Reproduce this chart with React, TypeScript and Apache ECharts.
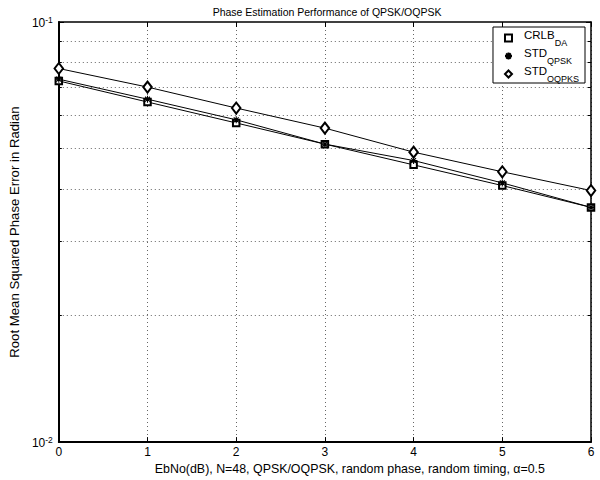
import React, { useEffect, useRef } from "react";
import * as echarts from "echarts";

const ebno = [0, 1, 2, 3, 4, 5, 6];
const crlbDA = [0.0724, 0.0645, 0.0575, 0.0512, 0.0457, 0.0408, 0.0362];
const stdQPSK = [0.0731, 0.0655, 0.0585, 0.0512, 0.0468, 0.0414, 0.0362];
const stdOQPKS = [0.0775, 0.07, 0.0624, 0.0559, 0.049, 0.044, 0.0397];
const xTicks = [0, 1, 2, 3, 4, 5, 6];

const FONT = "'Liberation Sans', Arial, Helvetica, sans-serif";
const ASTERISK = "path://M0,5L10,5M5,0L5,10M1.5,1.5L8.5,8.5M8.5,1.5L1.5,8.5";

const pairs = (ys: number[]) => ebno.map((x, i) => [x, ys[i]]);

export default function App() {
  const ref = useRef<HTMLDivElement>(null);
  useEffect(() => {
    if (!ref.current) return;
    const chart = echarts.init(ref.current, undefined, { renderer: "svg" });
    const dotted = { color: "#666", width: 1, type: [1, 3] as any };
    const logAxisBase = {
      type: "log" as const,
      logBase: 10,
      min: 0.01,
      max: 0.1,
      splitNumber: 1,
      axisTick: { show: true, inside: true, length: 5, lineStyle: { color: "#000" } },
      minorTick: { show: true, splitNumber: 9, length: 3, lineStyle: { color: "#000" } },
    };
    const seriesStyle = (name: string, ys: number[], symbol: string, size: any, bw: number) => ({
      name,
      type: "line",
      xAxisIndex: 0,
      yAxisIndex: 0,
      data: pairs(ys),
      symbol,
      symbolSize: size,
      showSymbol: true,
      lineStyle: { color: "#000", width: 1 },
      itemStyle: { color: "#000", borderColor: "#000", borderWidth: bw },
      emphasis: { disabled: true },
      z: 3,
    });
    chart.setOption({
      animation: false,
      backgroundColor: "#fff",
      textStyle: { fontFamily: FONT },
      title: {
        text: "Phase Estimation Performance of QPSK/OQPSK",
        left: 322,
        top: 1,
        textAlign: "center",
        textStyle: { fontSize: 10.5, fontWeight: "normal", color: "#000", fontFamily: FONT },
      },
      grid: { left: 54, right: 9, top: 22, bottom: 37, show: false },
      legend: {
        orient: "vertical",
        right: 15,
        top: 27,
        backgroundColor: "#fff",
        borderColor: "#000",
        borderWidth: 1,
        borderRadius: 0,
        padding: [2, 6, 0, 11],
        itemGap: 0,
        itemWidth: 7,
        itemHeight: 7,
        data: [
          { name: "CRLB", icon: "emptyRect" },
          { name: "STDQ", icon: ASTERISK },
          { name: "STDO", icon: "emptyDiamond" },
        ],
        formatter: (name: string) => {
          if (name === "CRLB") return "{n|CRLB}{s|DA}";
          if (name === "STDQ") return "{n|STD}{s|QPSK}";
          return "{n|STD}{s|OQPKS}";
        },
        textStyle: {
          color: "#000",
          fontFamily: FONT,
          padding: [0, 0, 0, 7],
          rich: {
            n: { fontSize: 11.5, fontFamily: FONT, color: "#000", lineHeight: 18, verticalAlign: "top" },
            s: { fontSize: 9, fontFamily: FONT, color: "#000", lineHeight: 18, verticalAlign: "bottom", padding: [7, 0, 0, 0] },
          },
        },
      },
      xAxis: [
        {
          type: "value",
          min: 0,
          max: 6,
          interval: 1,
          position: "bottom",
          name: "EbNo(dB), N=48, QPSK/OQPSK, random phase, random timing, α=0.5",
          nameLocation: "middle",
          nameGap: 20,
          nameTextStyle: { fontSize: 12.4, color: "#000", fontFamily: FONT, padding: [0, 0, 0, 50] },
          axisLine: { show: true, onZero: false, lineStyle: { color: "#000", width: 2 } },
          axisTick: { show: true, inside: true, length: 5, lineStyle: { color: "#000" } },
          axisLabel: {
            fontSize: 12,
            color: "#000",
            margin: 4,
            fontFamily: FONT,
            formatter: (v: number) => (xTicks.includes(v) ? String(v) : ""),
          },
          splitLine: { show: true, lineStyle: dotted },
        },
        {
          type: "value",
          min: 0,
          max: 6,
          interval: 1,
          position: "top",
          axisLine: { show: true, onZero: false, lineStyle: { color: "#000", width: 1.5 } },
          axisTick: { show: true, inside: true, length: 5, lineStyle: { color: "#000" } },
          axisLabel: { show: false },
          splitLine: { show: false },
        },
      ],
      yAxis: [
        {
          ...logAxisBase,
          position: "left",
          name: "Root Mean Squared Phase Error in Radian",
          nameLocation: "middle",
          nameGap: 28,
          nameTextStyle: { fontSize: 13.2, color: "#000", fontFamily: FONT },
          axisLine: { show: true, onZero: false, lineStyle: { color: "#000", width: 2 } },
          axisLabel: {
            margin: 6,
            fontFamily: FONT,
            formatter: (v: number) => `{b|10}{e|${Math.round(Math.log10(v))}}`,
            rich: {
              b: { fontSize: 12, color: "#000", fontFamily: FONT, lineHeight: 14, verticalAlign: "bottom" },
              e: { fontSize: 8.5, color: "#000", fontFamily: FONT, lineHeight: 14, verticalAlign: "top", padding: [0, 0, 6, 0] },
            },
          },
          splitLine: { show: false },
          minorSplitLine: { show: true, lineStyle: dotted },
        },
        {
          ...logAxisBase,
          position: "right",
          axisLine: { show: true, onZero: false, lineStyle: { color: "#000", width: 1.5 } },
          axisLabel: { show: false },
          splitLine: { show: false },
          minorSplitLine: { show: false },
        },
      ],
      series: [
        seriesStyle("CRLB", crlbDA, "emptyRect", 6.5, 0.8),
        seriesStyle("STDQ", stdQPSK, ASTERISK, 7, 1.1),
        seriesStyle("STDO", stdOQPKS, "emptyDiamond", [8.5, 11], 0.8),
      ],
    });
    return () => chart.dispose();
  }, []);
  return (
    <div
      ref={ref}
      style={{ position: "fixed", left: 0, top: 0, width: 600, height: 480, background: "#fff" }}
    />
  );
}
